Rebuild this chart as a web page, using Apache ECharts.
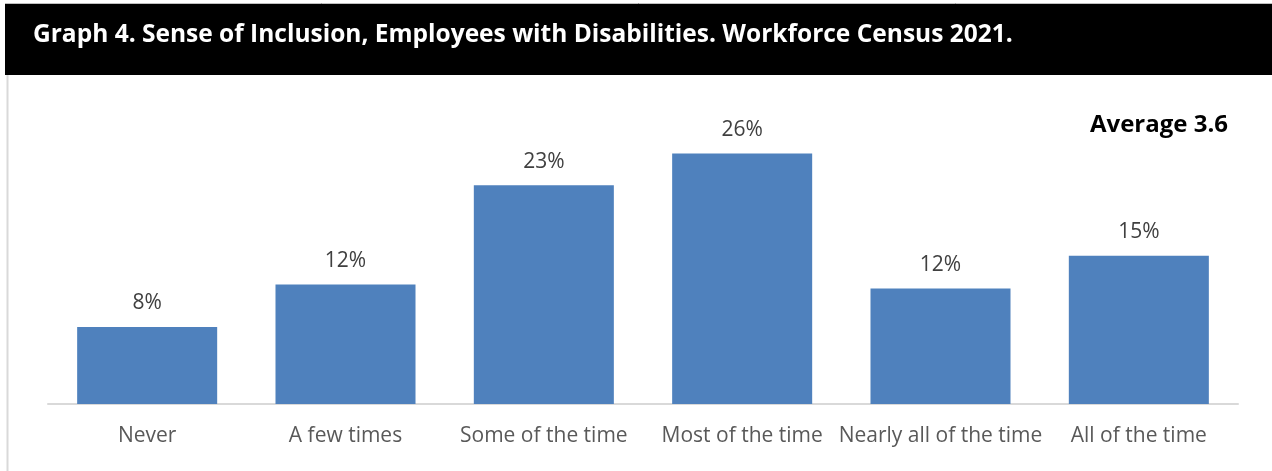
<!DOCTYPE html>
<html><head><meta charset="utf-8">
<script src="https://cdn.jsdelivr.net/npm/echarts@6/dist/echarts.min.js"></script>
<style>html,body{margin:0;padding:0;background:#fff}#c{width:1272px;height:471px}</style>
</head><body><div id="c"></div>
<script>
const titleText = 'Graph 4. Sense of Inclusion, Employees with Disabilities. Workforce Census 2021.';
const averageText = 'Average 3.6';
const categories = ['Never', 'A few times', 'Some of the time', 'Most of the time', 'Nearly all of the time', 'All of the time'];
const values = [8.0, 12.4, 22.7, 26.0, 12.0, 15.4];

const chart = echarts.init(document.getElementById('c'), null, {renderer: 'canvas'});
const FONT = '"Open Sans", sans-serif';
chart.setOption({
  animation: false,
  backgroundColor: '#fff',
  graphic: [
    {type: 'rect', shape: {x: 5, y: 3, width: 1267, height: 72}, style: {fill: '#000'}},
    {type: 'line', shape: {x1: 5, y1: 3.5, x2: 1272, y2: 3.5}, style: {stroke: '#bfbfbf', lineWidth: 1}},
    {type: 'line', shape: {x1: 7.5, y1: 75, x2: 7.5, y2: 471}, style: {stroke: '#d9d9d9', lineWidth: 2}},
    {type: 'text', left: 33, top: 23, style: {text: titleText, fill: '#fff', font: 'bold 24.5px ' + FONT}},
    {type: 'text', right: 44, top: 113, style: {text: averageText, fill: '#000', font: 'bold 24px ' + FONT}}
  ],
  grid: {left: 48, right: 34, top: 115, bottom: 67},
  xAxis: {
    type: 'category', data: categories,
    axisLine: {lineStyle: {color: '#d9d9d9', width: 2}},
    axisTick: {show: false},
    axisLabel: {color: '#595959', fontSize: 21, fontFamily: FONT, margin: 22, interval: 0}
  },
  yAxis: {type: 'value', min: 0, max: 30, show: false, splitLine: {show: false}},
  series: [{
    type: 'bar', data: values, barCategoryGap: '29.4%',
    itemStyle: {color: '#4f81bd'},
    label: {show: true, position: 'top', distance: 13, color: '#404040', fontSize: 21, fontFamily: FONT,
      formatter: p => Math.round(p.value) + '%'}
  }]
});
</script></body></html>
